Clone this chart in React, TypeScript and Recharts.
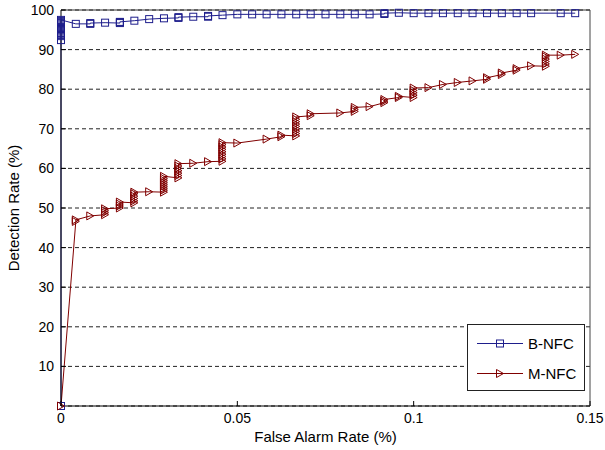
import React from 'react';
import { LineChart, Line, XAxis, YAxis, CartesianGrid, Legend } from 'recharts';

if (typeof document !== 'undefined') {
  document.body.style.margin = '0';
}

// ---- data ----
const seriesNames = ['B-NFC', 'M-NFC'];

const bnfcX = [
  0, 0, 0, 0, 0, 0, 0, 0, 0, 0, 0, 0, 0, 0, 0, 0, 0,
  0.0042, 0.0083, 0.0083, 0.0125, 0.0167, 0.0167, 0.0167, 0.0208, 0.025, 0.0292,
  0.0333, 0.0333, 0.0375, 0.0417, 0.0417, 0.0458, 0.05, 0.0542, 0.0583, 0.0625,
  0.0667, 0.0708, 0.075, 0.0792, 0.0833, 0.0875, 0.0917, 0.0917, 0.0958, 0.1,
  0.1042, 0.1083, 0.1125, 0.1167, 0.1208, 0.125, 0.1292, 0.1333, 0.1417, 0.1458,
];
const bnfcY = [
  0, 92.4, 93.4, 93.7, 94.0, 94.3, 94.6, 94.9, 95.2, 95.5, 95.8, 96.1, 96.4, 96.7, 97.0, 97.2, 97.5,
  96.5, 96.5, 96.7, 96.8, 96.7, 96.9, 97.0, 97.3, 97.7, 97.9,
  98.0, 98.2, 98.3, 98.3, 98.5, 98.7, 98.9, 98.9, 98.9, 98.9,
  98.9, 98.9, 98.9, 98.9, 98.9, 98.9, 99.0, 99.2, 99.3, 99.2,
  99.2, 99.2, 99.2, 99.2, 99.2, 99.2, 99.2, 99.2, 99.2, 99.2,
];

const mnfcX = [
  0,
  0.0042, 0.0042, 0.0083,
  0.0125, 0.0125, 0.0125, 0.0125,
  0.0167, 0.0167, 0.0167, 0.0167,
  0.0208, 0.0208, 0.0208, 0.0208, 0.0208, 0.0208,
  0.025,
  0.0292, 0.0292, 0.0292, 0.0292, 0.0292, 0.0292, 0.0292, 0.0292, 0.0292,
  0.0333, 0.0333, 0.0333, 0.0333, 0.0333, 0.0333, 0.0333,
  0.0375, 0.0417,
  0.0458, 0.0458, 0.0458, 0.0458, 0.0458, 0.0458, 0.0458, 0.0458, 0.0458,
  0.05, 0.0583, 0.0625, 0.0625,
  0.0667, 0.0667, 0.0667, 0.0667, 0.0667, 0.0667, 0.0667, 0.0667, 0.0667,
  0.0708, 0.0708, 0.0792,
  0.0833, 0.0833, 0.0833, 0.0875,
  0.0917, 0.0917, 0.0917, 0.0958, 0.0958,
  0.1, 0.1, 0.1, 0.1, 0.1,
  0.1042, 0.1083, 0.1125, 0.1167,
  0.1208, 0.1208, 0.125, 0.125, 0.1292, 0.1292, 0.1333,
  0.1375, 0.1375, 0.1375, 0.1375, 0.1375, 0.1375,
  0.1417, 0.1458,
];
const mnfcY = [
  0,
  46.6, 47.0, 48.0,
  48.3, 48.8, 49.3, 49.8,
  50.0, 50.5, 51.0, 51.5,
  51.3, 51.8, 52.4, 53.0, 53.6, 54.0,
  54.1,
  54.0, 54.5, 55.0, 55.5, 56.0, 56.5, 57.0, 57.5, 58.0,
  57.6, 58.2, 58.8, 59.4, 60.0, 60.6, 61.2,
  61.3, 61.7,
  61.8, 62.4, 63.0, 63.6, 64.2, 64.8, 65.4, 66.0, 66.5,
  66.4, 67.4, 68.0, 68.4,
  68.2, 68.8, 69.4, 70.0, 70.6, 71.2, 71.8, 72.4, 73.0,
  73.3, 73.8, 74.0,
  74.4, 74.9, 75.4, 75.6,
  76.6, 77.0, 77.4, 77.9, 78.2,
  77.9, 78.5, 79.1, 79.7, 80.3,
  80.4, 81.2, 81.7, 82.1,
  82.5, 82.9, 83.7, 84.1, 84.8, 85.2, 85.9,
  85.8, 86.4, 87.0, 87.6, 88.2, 88.6,
  88.6, 88.8,
];

const xTicks = [0, 0.05, 0.1, 0.15];
const xTickLabels = ['0', '0.05', '0.1', '0.15'];
const yTicks = [10, 20, 30, 40, 50, 60, 70, 80, 90, 100];
const yTickLabels = ['10', '20', '30', '40', '50', '60', '70', '80', '90', '100'];

const bnfcData = bnfcX.map((x, i) => ({ x, y: bnfcY[i] }));
const mnfcData = mnfcX.map((x, i) => ({ x, y: mnfcY[i] }));

// ---- styles ----
const BLUE = '#1e1e8c';
const RED = '#800000';
const FONT = '"Liberation Sans", Arial, Helvetica, sans-serif';

const SquareDot = (p: any) => {
  if (p.cx == null || p.cy == null) return <g key={p.key} />;
  return (
    <rect key={p.key} x={p.cx - 3.5} y={p.cy - 3.5} width={7} height={7}
      fill="none" stroke={BLUE} strokeWidth={1} />
  );
};

const TriDot = (p: any) => {
  if (p.cx == null || p.cy == null) return <g key={p.key} />;
  const { cx, cy } = p;
  return (
    <polygon key={p.key}
      points={`${cx - 3.5},${cy - 4} ${cx + 3.5},${cy} ${cx - 3.5},${cy + 4}`}
      fill="none" stroke={RED} strokeWidth={1} />
  );
};

const XTick = (p: any) => {
  const { x, y, payload } = p;
  const i = xTicks.indexOf(payload.value);
  return (
    <g>
      <line x1={x} x2={x} y1={y} y2={y - 5} stroke="#000" />
      <text x={x} y={y + 17} textAnchor="middle" fontSize={14} fontFamily={FONT} fill="#000">
        {i >= 0 ? xTickLabels[i] : ''}
      </text>
    </g>
  );
};

const XTopTick = (p: any) => {
  const { x, y } = p;
  return <line x1={x} x2={x} y1={y} y2={y + 5} stroke="#000" />;
};

const YTick = (p: any) => {
  const { x, y, payload } = p;
  const i = yTicks.indexOf(payload.value);
  return (
    <g>
      <line x1={x} x2={x + 5} y1={y} y2={y} stroke="#000" />
      <text x={x - 7} y={y + 5} textAnchor="end" fontSize={14} fontFamily={FONT} fill="#000">
        {i >= 0 ? yTickLabels[i] : ''}
      </text>
    </g>
  );
};

const YRightTick = (p: any) => {
  const { x, y } = p;
  return <line x1={x} x2={x - 5} y1={y} y2={y} stroke="#000" />;
};

const LegendBox = () => (
  <svg width={118} height={67} style={{ display: 'block' }}>
    <rect x={0.5} y={0.5} width={117} height={66} fill="#fff" stroke="#222" />
    <line x1={10} x2={56} y1={19.5} y2={19.5} stroke={BLUE} />
    <rect x={29.5} y={16} width={7} height={7} fill="none" stroke={BLUE} />
    <text x={61} y={25} fontSize={15} fontFamily={FONT} fill="#000">{seriesNames[0]}</text>
    <line x1={10} x2={56} y1={49.5} y2={49.5} stroke={RED} />
    <polygon points="29.5,45.5 36.5,49.5 29.5,53.5" fill="none" stroke={RED} />
    <text x={61} y={55} fontSize={15} fontFamily={FONT} fill="#000">{seriesNames[1]}</text>
  </svg>
);

export default function App() {
  return (
    <div style={{ width: 605, height: 450, position: 'relative', overflow: 'hidden' }}>
      <LineChart width={605} height={450} margin={{ top: 0, right: 0, bottom: 0, left: 0 }}>
        <CartesianGrid vertical={false} stroke="#222" strokeDasharray="4 3" />
        <XAxis
          xAxisId={0}
          type="number"
          dataKey="x"
          domain={[0, 0.15]}
          ticks={xTicks}
          interval={0}
          height={44}
          tickSize={0}
          tickMargin={0}
          tickLine={false}
          axisLine={{ stroke: '#000' }}
          tick={<XTick />}
          label={{ value: 'False Alarm Rate (%)', position: 'insideBottom', offset: 8, fontSize: 15, fontFamily: FONT, fill: '#000' }}
        />
        <XAxis
          xAxisId="top"
          orientation="top"
          type="number"
          domain={[0, 0.15]}
          ticks={xTicks}
          interval={0}
          height={10}
          tickSize={0}
          tickMargin={0}
          tickLine={false}
          axisLine={{ stroke: '#333' }}
          tick={<XTopTick />}
        />
        <YAxis
          yAxisId={0}
          type="number"
          dataKey="y"
          domain={[0, 100]}
          ticks={yTicks}
          interval={0}
          width={61}
          tickSize={0}
          tickMargin={0}
          tickLine={false}
          axisLine={{ stroke: '#000' }}
          tick={<YTick />}
          label={{ value: 'Detection Rate (%)', angle: -90, position: 'insideLeft', offset: 14, fontSize: 15, fontFamily: FONT, fill: '#000', style: { textAnchor: 'middle' } }}
        />
        <YAxis
          yAxisId="right"
          orientation="right"
          type="number"
          domain={[0, 100]}
          ticks={yTicks}
          interval={0}
          width={15}
          tickSize={0}
          tickMargin={0}
          tickLine={false}
          axisLine={{ stroke: '#444' }}
          tick={<YRightTick />}
        />
        <Line
          data={bnfcData}
          dataKey="y"
          name={seriesNames[0]}
          stroke={BLUE}
          strokeWidth={1}
          dot={SquareDot}
          activeDot={false}
          isAnimationActive={false}
        />
        <Line
          data={mnfcData}
          dataKey="y"
          name={seriesNames[1]}
          stroke={RED}
          strokeWidth={1}
          dot={TriDot}
          activeDot={false}
          isAnimationActive={false}
        />
        <Legend
          layout="horizontal"
          verticalAlign="middle"
          content={() => <LegendBox />}
          wrapperStyle={{ position: 'absolute', left: 467, top: 324, width: 118, height: 67 }}
        />
      </LineChart>
    </div>
  );
}
